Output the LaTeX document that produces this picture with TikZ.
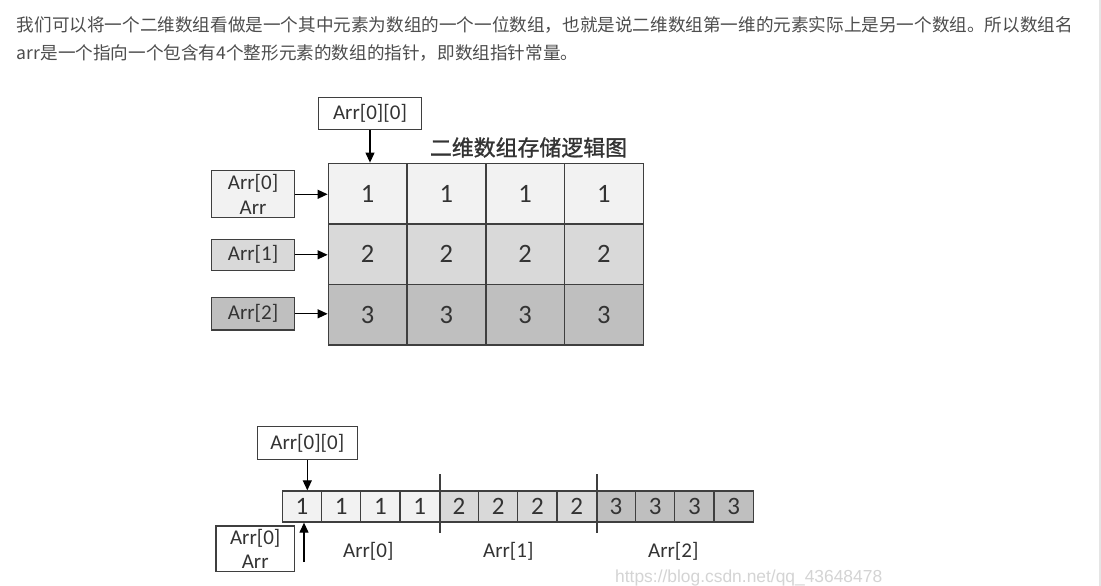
\documentclass[tikz,border=0pt]{standalone}
\usepackage{fontspec}
\setmainfont{Carlito}
\newfontfamily\cjk{Noto Sans CJK SC}
\newfontfamily\cjkbold[FakeBold=1.2]{Noto Sans CJK SC}
\newfontfamily\wmfont{Liberation Sans}
\usetikzlibrary{arrows.meta,positioning}
\definecolor{bodytext}{HTML}{4D4D4D}
\definecolor{figtext}{HTML}{333333}
\definecolor{edge}{HTML}{3F3F3F}
\definecolor{row1}{HTML}{F2F2F2}
\definecolor{row2}{HTML}{D9D9D9}
\definecolor{row3}{HTML}{BFBFBF}
\definecolor{mark}{HTML}{D4D4D4}

\begin{document}
\begin{tikzpicture}[
    x=1pt, y=-1pt,
    every node/.style={inner sep=0pt, text=figtext},
    para/.style={anchor=base west, font=\cjk\fontsize{17.6}{20}\selectfont, text=bodytext},
    box/.style={rectangle, draw=edge, line width=1.3pt, align=center, font=\fontsize{21}{25}\selectfont},
    cell/.style={rectangle, draw=edge, line width=1.4pt, minimum width=78.75pt, minimum height=60.6pt, font=\fontsize{26.5}{30}\selectfont},
    slot/.style={rectangle, draw=edge, line width=1.3pt, minimum width=39.25pt, minimum height=31pt, font=\fontsize{25}{28}\selectfont},
    label/.style={font=\fontsize{21}{25}\selectfont},
    arrow/.style={-{Triangle[length=10pt,width=9pt]}, draw=black, line width=1.2pt},
    divider/.style={draw=edge, line width=1.4pt}
]
    \fill [white] (0,0) rectangle (1101,586);
    \useasboundingbox (0,0) rectangle (1101,586);
    \draw [draw=black!10, line width=1.5pt] (1100.2,0) -- (1100.2,586);

    \node (para1) [para] at (16.7,31.5) {我们可以将一个二维数组看做是一个其中元素为数组的一个一位数组，也就是说二维数组第一维的元素实际上是另一个数组。所以数组名};
    \node (para2) [para] at (16.7,60) {arr是一个指向一个包含有4个整形元素的数组的指针，即数组指针常量。};

    % two-dimensional view
    \foreach \r in {1,2,3}
      \foreach \c in {1,...,4}
        \node (g-\r-\c) [cell, fill=row\r] at ({328.3+78.75*(\c-0.5)}, {163.3+60.6*(\r-0.5)}) {\r};

    \node (title) [font=\cjkbold\fontsize{21.9}{24}\selectfont] at (528.5,147.5) {二维数组存储逻辑图};
    \node (top00) [box, fill=white, minimum width=103.4pt, minimum height=32pt] at (370,113.3) {Arr[0][0]};
    \node (row0) [box, fill=row1, minimum width=82.6pt, minimum height=47pt] at (253,194.3) {Arr[0]\\Arr};
    \node (row1) [box, fill=row2, minimum width=82.6pt, minimum height=31pt] at (253,254.8) {Arr[1]};
    \node (row2) [box, fill=row3, minimum width=82.6pt, minimum height=32.5pt] at (253,313.8) {Arr[2]};

    \draw [arrow] (top00.south) -- (top00.south |- g-1-1.north);
    \draw [arrow] (row0.east) -- (row0.east -| g-1-1.west);
    \draw [arrow] (row1.east) -- (row1.east -| g-2-1.west);
    \draw [arrow] (row2.east) -- (row2.east -| g-3-1.west);

    % flat view in memory
    \foreach \i in {1,...,12} {
        \pgfmathtruncatemacro\v{int((\i-1)/4)+1}
        \node (s-\i) [slot, fill=row\v] at ({282.3+39.25*(\i-0.5)}, 506.5) {\v};
    }
    \draw [divider] ([yshift=16pt]s-4.north east) -- ([yshift=-10pt]s-4.south east);
    \draw [divider] ([yshift=16pt]s-8.north east) -- ([yshift=-10pt]s-8.south east);

    \node (flat00) [box, fill=white, minimum width=100pt, minimum height=32.6pt] at (307.3,443) {Arr[0][0]};
    \node (flat0) [box, fill=white, minimum width=78.3pt, minimum height=45.7pt, font=\fontsize{21}{24}\selectfont] at (255.2,548.9) {Arr[0]\\Arr};
    \coordinate (foot) at (304,562);

    \draw [arrow] (flat00.south) -- (flat00.south |- s-1.north);
    \draw [arrow] (foot) -- (foot |- s-1.south);

    \node (part0) [label] at (368.3,551.7) {Arr[0]};
    \node (part1) [label] at (508.3,551.7) {Arr[1]};
    \node (part2) [label] at (673.3,551.7) {Arr[2]};

    \node (wm) [anchor=base west, font=\wmfont\fontsize{17.4}{20}\selectfont, text=mark] at (615,582) {https://blog.csdn.net/qq\_43648478};
\end{tikzpicture}
\end{document}
